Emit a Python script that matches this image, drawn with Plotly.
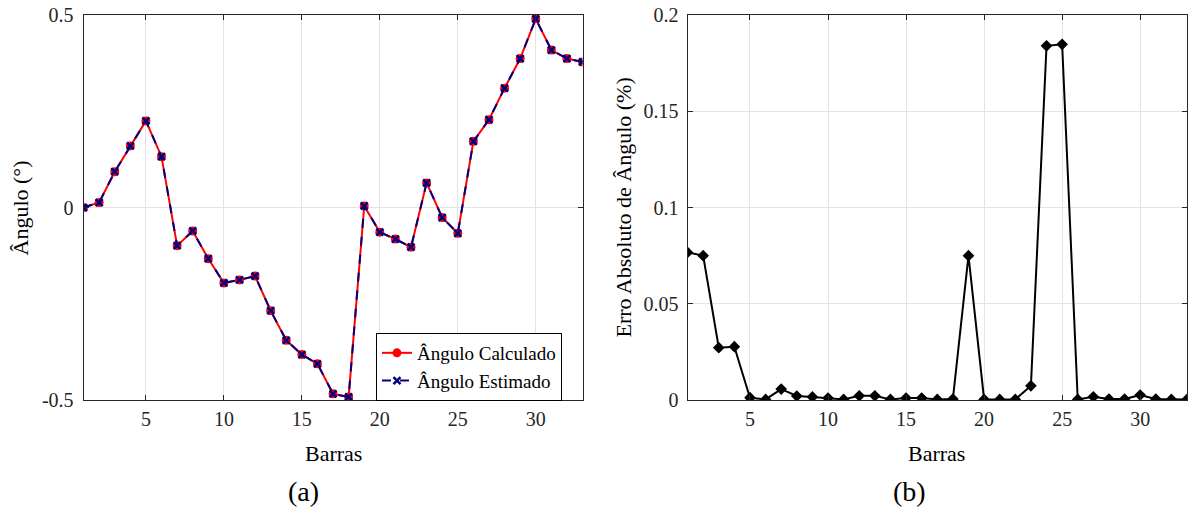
import plotly.graph_objects as go

barras = list(range(1, 34))
angulo_calc = [0.0, 0.013, 0.093, 0.160, 0.225, 0.132, -0.099, -0.061, -0.133, -0.196,
               -0.188, -0.178, -0.268, -0.345, -0.382, -0.406, -0.484, -0.492, 0.004, -0.064,
               -0.082, -0.103, 0.064, -0.026, -0.067, 0.172, 0.228, 0.310, 0.387, 0.490,
               0.409, 0.387, 0.378]
angulo_est = [0.0, 0.013, 0.093, 0.160, 0.225, 0.132, -0.099, -0.061, -0.133, -0.196,
              -0.188, -0.178, -0.268, -0.345, -0.382, -0.406, -0.484, -0.492, 0.004, -0.064,
              -0.082, -0.103, 0.064, -0.026, -0.067, 0.172, 0.228, 0.310, 0.387, 0.490,
              0.409, 0.387, 0.378]
erro_abs = [0.0767, 0.0750, 0.0272, 0.0277, 0.0012, 0.0003, 0.0057, 0.0021, 0.0016, 0.0010,
            0.0003, 0.0022, 0.0022, 0.0003, 0.0010, 0.0010, 0.0003, 0.0005, 0.0750, 0.0003,
            0.0003, 0.0003, 0.0074, 0.1840, 0.1848, 0.0003, 0.0017, 0.0005, 0.0005, 0.0026,
            0.0005, 0.0003, 0.0003]

x_ticks = [5, 10, 15, 20, 25, 30]
y1_ticks = [-0.5, 0, 0.5]
y1_labels = ["-0.5", "0", "0.5"]
y2_ticks = [0, 0.05, 0.1, 0.15, 0.2]
y2_labels = ["0", "0.05", "0.1", "0.15", "0.2"]

FONT = "Liberation Serif"
AX = "#262626"
GRID = "#e3e3e3"

fig = go.Figure()
fig.add_trace(go.Scatter(x=barras, y=angulo_calc, mode="lines+markers", name="Ângulo Calculado",
                         line=dict(color="#ff0000", width=2),
                         marker=dict(symbol="circle", size=9, color="#ff0000"),
                         xaxis="x", yaxis="y"))
fig.add_trace(go.Scatter(x=barras, y=angulo_est, mode="lines+markers", name="Ângulo Estimado",
                         line=dict(color="#000080", width=2, dash="dash"),
                         marker=dict(symbol="x-thin", size=7, color="#000080",
                                     line=dict(color="#000080", width=2.5)),
                         xaxis="x", yaxis="y"))
fig.add_trace(go.Scatter(x=barras, y=erro_abs, mode="lines+markers", showlegend=False,
                         line=dict(color="#000000", width=2),
                         marker=dict(symbol="diamond", size=9, color="#000000"),
                         xaxis="x2", yaxis="y2"))

common_axis = dict(showline=True, linecolor=AX, linewidth=1, mirror="ticks", ticks="inside",
                   ticklen=5, tickcolor=AX, showgrid=True, gridcolor=GRID, gridwidth=1,
                   zeroline=False, automargin=False,
                   tickfont=dict(family=FONT, size=20, color=AX))

YDOM = [0.2141, 0.9705]
fig.update_layout(
    width=1192, height=509,
    margin=dict(l=0, r=0, t=0, b=0),
    paper_bgcolor="white", plot_bgcolor="white",
    font=dict(family=FONT, color="#000000"),
    xaxis=dict(domain=[0.0701, 0.4887], range=[1, 33], tickvals=x_ticks, anchor="y",
               ticklabelstandoff=1, **common_axis),
    yaxis=dict(domain=YDOM, range=[-0.5, 0.5], tickvals=y1_ticks, ticktext=y1_labels,
               anchor="x", ticklabelstandoff=5, **common_axis),
    xaxis2=dict(domain=[0.5768, 0.9958], range=[1, 33], tickvals=x_ticks, anchor="y2",
                ticklabelstandoff=1, **common_axis),
    yaxis2=dict(domain=YDOM, range=[0, 0.2], tickvals=y2_ticks, ticktext=y2_labels,
                anchor="x2", ticklabelstandoff=4, **common_axis),
    legend=dict(x=0.3154, y=0.3458, xanchor="left", yanchor="top",
                bordercolor="#000000", borderwidth=1, bgcolor="white",
                font=dict(family=FONT, size=19, color="#000000"),
                tracegroupgap=0, itemwidth=30),
    showlegend=True,
)

annots = [
    dict(text="Barras", x=0.2794, y=0.1081, size=22, angle=0),
    dict(text="Barras", x=0.786, y=0.1081, size=22, angle=0),
    dict(text="(a)", x=0.255, y=0.0334, size=28, angle=0),
    dict(text="(b)", x=0.763, y=0.0334, size=28, angle=0),
    dict(text="Ângulo (°)", x=0.0176, y=0.5923, size=22, angle=-90),
    dict(text="Erro Absoluto de Ângulo (%)", x=0.5235, y=0.5923, size=22, angle=-90),
]
for a in annots:
    fig.add_annotation(text=a["text"], x=a["x"], y=a["y"], xref="paper", yref="paper",
                       showarrow=False, textangle=a["angle"], xanchor="center", yanchor="middle",
                       font=dict(family=FONT, size=a["size"], color="#000000"))

fig.write_html("out.html")
